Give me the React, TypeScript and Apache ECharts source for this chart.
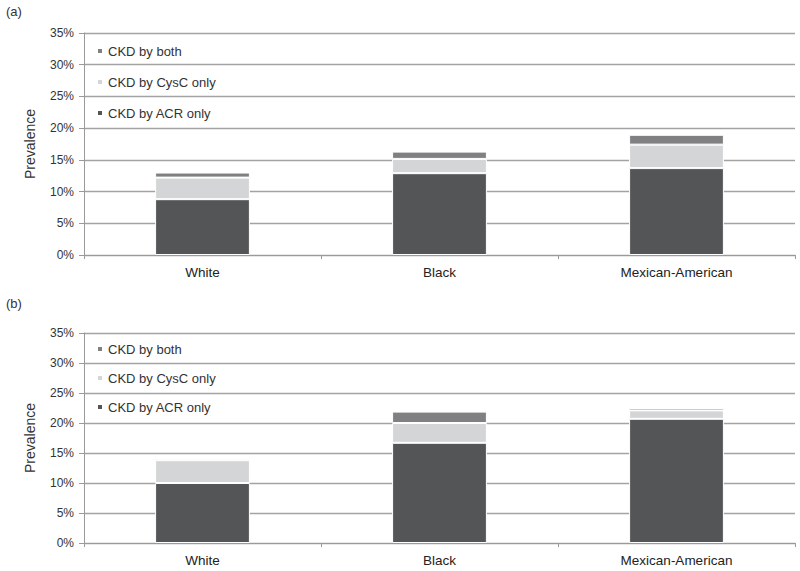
import React, { useEffect, useRef } from "react";
import * as echarts from "echarts";

const categories = ["White", "Black", "Mexican-American"];
const seriesNames = ["CKD by ACR only", "CKD by CysC only", "CKD by both"];
const acrA = [8.8, 12.9, 13.7];
const cysA = [3.4, 2.25, 3.7];
const bothA = [0.8, 1.15, 1.55];
const acrB = [10.0, 16.7, 20.7];
const cysB = [3.8, 3.3, 1.4];
const bothB = [0.25, 1.9, 0.4];
const yTicks = { min: 0, max: 35, interval: 5 };
const panelLabels = ["(a)", "(b)"];

const colors = ["#545557", "#d4d5d6", "#808082"];
const font = "'Liberation Sans', Arial, sans-serif";

export default function App() {
  const ref = useRef<HTMLDivElement>(null);
  useEffect(() => {
    const chart = echarts.init(ref.current!, undefined, { renderer: "svg" });
    const grids = [
      { left: 84, right: 5, top: 33, height: 222 },
      { left: 84, right: 5, top: 333, height: 210 },
    ];
    const xAxis = grids.map((_, i) => ({
      type: "category",
      gridIndex: i,
      data: categories,
      axisLine: { lineStyle: { color: "#9a9a9a", width: 1 } },
      axisTick: { show: true, length: 4, lineStyle: { color: "#9a9a9a" } },
      axisLabel: { color: "#222", fontSize: 13.5, fontFamily: font, margin: 10 },
    }));
    const yAxis = grids.map((_, i) => ({
      type: "value",
      gridIndex: i,
      min: yTicks.min,
      max: yTicks.max,
      interval: yTicks.interval,
      name: "Prevalence",
      nameLocation: "middle",
      nameGap: 47,
      nameTextStyle: { color: "#333", fontSize: 14, fontFamily: font },
      axisLine: { show: true, lineStyle: { color: "#9a9a9a", width: 1 } },
      axisTick: { show: true, length: 5, lineStyle: { color: "#9a9a9a" } },
      axisLabel: { color: "#333", fontSize: 12, fontFamily: font, formatter: "{value}%", margin: 10 },
      splitLine: { lineStyle: { color: "#a3a3a3", width: 1.3 } },
    }));
    const dataSets = [
      [acrA, cysA, bothA],
      [acrB, cysB, bothB],
    ];
    const series: any[] = [];
    dataSets.forEach((set, g) => {
      set.forEach((vals, k) => {
        series.push({
          type: "bar",
          name: seriesNames[k],
          xAxisIndex: g,
          yAxisIndex: g,
          stack: "s" + g,
          barWidth: "40%",
          data: vals,
          itemStyle: { color: colors[k], borderColor: "#fff", borderWidth: 1 },
        });
      });
    });
    const legendBase = {
      orient: "vertical",
      left: 96,
      padding: 0,
      data: [seriesNames[2], seriesNames[1], seriesNames[0]],
      icon: "rect",
      itemWidth: 6,
      itemHeight: 6,
      selectedMode: false,
      textStyle: { color: "#333", fontSize: 13, fontFamily: font, lineHeight: 16 },
    };
    chart.setOption({
      animation: false,
      color: colors,
      grid: grids,
      xAxis,
      yAxis,
      series,
      legend: [
        { ...legendBase, top: 43, itemGap: 15 },
        { ...legendBase, top: 341, itemGap: 13 },
      ],
      graphic: [
        { type: "text", left: 6, top: 5, style: { text: panelLabels[0], fontSize: 13, fill: "#333", fontFamily: font } },
        { type: "text", left: 6, top: 297, style: { text: panelLabels[1], fontSize: 13, fill: "#333", fontFamily: font } },
      ],
    });
    return () => chart.dispose();
  }, []);
  return (
    <div
      ref={ref}
      style={{ position: "absolute", left: 0, top: 0, width: 800, height: 571, background: "#fff" }}
    />
  );
}
